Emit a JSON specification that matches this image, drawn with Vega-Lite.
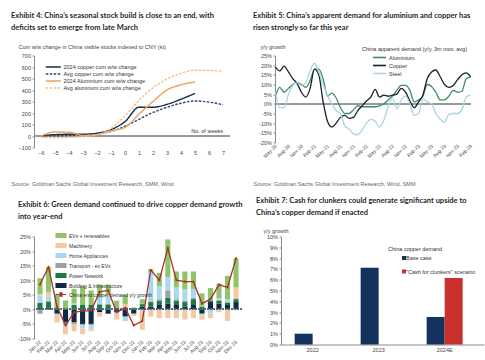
{
  "$schema": "https://vega.github.io/schema/vega-lite/v6.json",
  "background": "white",
  "padding": {"left": 11, "top": 11.5, "right": 5, "bottom": 0},
  "config": {
    "font": "Liberation Sans",
    "view": {"stroke": null},
    "axis": {"labelFontSize": 5.5, "labelColor": "#444", "titleFontSize": 5.5, "titleFontWeight": "normal", "titleColor": "#444", "domainColor": "#8a8a8a", "tickColor": "#8a8a8a", "grid": false, "tickSize": 2, "labelPadding": 1.5, "labelOverlap": false},
    "legend": {"labelFontSize": 5.5, "labelColor": "#333", "titleFontSize": 5.5, "titleFontWeight": "normal", "titleColor": "#333"},
    "title": {"font": "Lato", "fontSize": 7.5, "fontWeight": "bold", "anchor": "start", "frame": "group", "color": "#262626", "lineHeight": 12}
  },
  "datasets": {
    "p1": [
      {"w": -6, "2024 copper cum w/w change": 0, "Avg copper cum w/w change": -5, "2024 Aluminium cum w/w change": 0, "Avg aluminum cum w/w change": -8},
      {"w": -5, "2024 copper cum w/w change": 12, "Avg copper cum w/w change": 5, "2024 Aluminium cum w/w change": 35, "Avg aluminum cum w/w change": -15},
      {"w": -4, "2024 copper cum w/w change": 15, "Avg copper cum w/w change": 5, "2024 Aluminium cum w/w change": 33, "Avg aluminum cum w/w change": -12},
      {"w": -3, "2024 copper cum w/w change": 15, "Avg copper cum w/w change": 10, "2024 Aluminium cum w/w change": 5, "Avg aluminum cum w/w change": -5},
      {"w": -2, "2024 copper cum w/w change": 25, "Avg copper cum w/w change": 20, "2024 Aluminium cum w/w change": 12, "Avg aluminum cum w/w change": 10},
      {"w": -1, "2024 copper cum w/w change": 55, "Avg copper cum w/w change": 40, "2024 Aluminium cum w/w change": 45, "Avg aluminum cum w/w change": 65},
      {"w": 0, "2024 copper cum w/w change": 125, "Avg copper cum w/w change": 85, "2024 Aluminium cum w/w change": 75, "Avg aluminum cum w/w change": 175},
      {"w": 1, "2024 copper cum w/w change": 250, "Avg copper cum w/w change": 145, "2024 Aluminium cum w/w change": 190, "Avg aluminum cum w/w change": 310},
      {"w": 2, "2024 copper cum w/w change": 250, "Avg copper cum w/w change": 205, "2024 Aluminium cum w/w change": 300, "Avg aluminum cum w/w change": 420},
      {"w": 3, "2024 copper cum w/w change": 275, "Avg copper cum w/w change": 250, "2024 Aluminium cum w/w change": 400, "Avg aluminum cum w/w change": 495},
      {"w": 4, "2024 copper cum w/w change": 320, "Avg copper cum w/w change": 285, "2024 Aluminium cum w/w change": 445, "Avg aluminum cum w/w change": 545},
      {"w": 5, "2024 copper cum w/w change": 370, "Avg copper cum w/w change": 305, "2024 Aluminium cum w/w change": 470, "Avg aluminum cum w/w change": 572},
      {"w": 6, "Avg copper cum w/w change": 295, "Avg aluminum cum w/w change": 570},
      {"w": 7, "Avg copper cum w/w change": 272, "Avg aluminum cum w/w change": 563}
    ],
    "p2": [
      {"m": "May-20", "Aluminium": 4, "Copper": 19, "Steel": 6},
      {"m": "Jun-20", "Aluminium": 8.5, "Copper": 17, "Steel": -2},
      {"m": "Jul-20", "Aluminium": 6, "Copper": 19.5, "Steel": -2},
      {"m": "Aug-20", "Aluminium": 8, "Copper": 16.5, "Steel": 5},
      {"m": "Sep-20", "Aluminium": 10, "Copper": 13, "Steel": 9.5},
      {"m": "Oct-20", "Aluminium": 11, "Copper": 10.5, "Steel": 11},
      {"m": "Nov-20", "Aluminium": 10, "Copper": 6, "Steel": 9.5},
      {"m": "Dec-20", "Aluminium": 8.5, "Copper": 3.5, "Steel": 11},
      {"m": "Jan-21", "Aluminium": 12, "Copper": 8, "Steel": 17},
      {"m": "Feb-21", "Aluminium": 18, "Copper": 18, "Steel": 21},
      {"m": "Mar-21", "Aluminium": 18, "Copper": 15, "Steel": 16.5},
      {"m": "Apr-21", "Aluminium": 13, "Copper": 1, "Steel": 10},
      {"m": "May-21", "Aluminium": 4, "Copper": -9, "Steel": 4.5},
      {"m": "Jun-21", "Aluminium": 5.5, "Copper": -12, "Steel": 0},
      {"m": "Jul-21", "Aluminium": 3, "Copper": -10, "Steel": -3.5},
      {"m": "Aug-21", "Aluminium": -2, "Copper": -7, "Steel": -5},
      {"m": "Sep-21", "Aluminium": -5, "Copper": -6, "Steel": -11.5},
      {"m": "Oct-21", "Aluminium": -5, "Copper": -7.5, "Steel": -13},
      {"m": "Nov-21", "Aluminium": -3, "Copper": -7, "Steel": -15.5},
      {"m": "Dec-21", "Aluminium": -1, "Copper": -3.5, "Steel": -16},
      {"m": "Jan-22", "Aluminium": -1.5, "Copper": -1, "Steel": -13.5},
      {"m": "Feb-22", "Aluminium": -1.5, "Copper": 1.5, "Steel": -10},
      {"m": "Mar-22", "Aluminium": -1.5, "Copper": 3.5, "Steel": -8},
      {"m": "Apr-22", "Aluminium": -1.5, "Copper": 7.5, "Steel": -9},
      {"m": "May-22", "Aluminium": -1, "Copper": 3.5, "Steel": -12},
      {"m": "Jun-22", "Aluminium": 0, "Copper": 4.5, "Steel": -8.5},
      {"m": "Jul-22", "Aluminium": 2, "Copper": 4, "Steel": -1.5},
      {"m": "Aug-22", "Aluminium": 4, "Copper": 4.5, "Steel": 3},
      {"m": "Sep-22", "Aluminium": 7, "Copper": 5, "Steel": -2.5},
      {"m": "Oct-22", "Aluminium": 9.5, "Copper": 8, "Steel": 2},
      {"m": "Nov-22", "Aluminium": 9.5, "Copper": 6, "Steel": 4},
      {"m": "Dec-22", "Aluminium": 7, "Copper": 1.5, "Steel": 0},
      {"m": "Jan-23", "Aluminium": 1, "Copper": -2, "Steel": -6},
      {"m": "Feb-23", "Aluminium": 2, "Copper": 1, "Steel": -5},
      {"m": "Mar-23", "Aluminium": 4, "Copper": 4.5, "Steel": 2.5},
      {"m": "Apr-23", "Aluminium": 10, "Copper": 13, "Steel": 1},
      {"m": "May-23", "Aluminium": 9, "Copper": 16.5, "Steel": 0},
      {"m": "Jun-23", "Aluminium": 6, "Copper": 17.5, "Steel": -5},
      {"m": "Jul-23", "Aluminium": 2, "Copper": 14, "Steel": -8},
      {"m": "Aug-23", "Aluminium": 2, "Copper": 10, "Steel": -9.5},
      {"m": "Sep-23", "Aluminium": 4, "Copper": 8.5, "Steel": -5.5},
      {"m": "Oct-23", "Aluminium": 7, "Copper": 9.5, "Steel": -5},
      {"m": "Nov-23", "Aluminium": 6, "Copper": 12.5, "Steel": -5},
      {"m": "Dec-23", "Aluminium": 6.5, "Copper": 15, "Steel": -3},
      {"m": "Jan-24", "Aluminium": 13, "Copper": 16, "Steel": 3.5},
      {"m": "Feb-24", "Aluminium": 14, "Copper": 14, "Steel": 4.5}
    ],
    "p3": [
      {"m": "Jan-22", "Building & Infrastructure": 0.5, "Power Network": 1.7, "Transport - ex EVs": -1.5, "Home Appliances": 2.5, "Machinery": 0.5, "EVs + renewables": 5.5, "tot": 8.5},
      {"m": "Feb-22", "Building & Infrastructure": 0.5, "Power Network": 2, "Transport - ex EVs": 0.5, "Home Appliances": 1.5, "Machinery": 1.5, "EVs + renewables": 8.5, "tot": 14.5},
      {"m": "Mar-22", "Building & Infrastructure": -1.5, "Power Network": 0.5, "Transport - ex EVs": 0.3, "Home Appliances": -0.5, "Machinery": -2.5, "EVs + renewables": 4.5, "tot": 1},
      {"m": "Apr-22", "Building & Infrastructure": -4.5, "Power Network": 0.3, "Transport - ex EVs": -0.5, "Home Appliances": -1, "Machinery": -2.5, "EVs + renewables": 2.7, "tot": -5.5},
      {"m": "May-22", "Building & Infrastructure": -4.5, "Power Network": 1.5, "Transport - ex EVs": -0.5, "Home Appliances": 0.5, "Machinery": -2.5, "EVs + renewables": 5, "tot": -1},
      {"m": "Jun-22", "Building & Infrastructure": -5, "Power Network": 1.5, "Transport - ex EVs": -0.5, "Home Appliances": -1, "Machinery": -2, "EVs + renewables": 6.5, "tot": -0.5},
      {"m": "Jul-22", "Building & Infrastructure": -5, "Power Network": 1.5, "Transport - ex EVs": -0.5, "Home Appliances": -1.5, "Machinery": -0.5, "EVs + renewables": 5, "tot": -0.5},
      {"m": "Aug-22", "Building & Infrastructure": -1, "Power Network": 1.5, "Transport - ex EVs": 0.5, "Home Appliances": 2.5, "Machinery": -1.5, "EVs + renewables": 4, "tot": 6},
      {"m": "Sep-22", "Building & Infrastructure": -1.5, "Power Network": 1.5, "Transport - ex EVs": 0.5, "Home Appliances": 2.5, "Machinery": 0.5, "EVs + renewables": 3.5, "tot": 6.5},
      {"m": "Oct-22", "Building & Infrastructure": -1, "Power Network": 0.5, "Transport - ex EVs": 0.3, "Home Appliances": -0.5, "Machinery": -2, "EVs + renewables": 2.2, "tot": -1},
      {"m": "Nov-22", "Building & Infrastructure": -2.5, "Power Network": 0.5, "Transport - ex EVs": 0.3, "Home Appliances": -1.5, "Machinery": 1, "EVs + renewables": 3.2, "tot": 0.5},
      {"m": "Dec-22", "Building & Infrastructure": -1.5, "Power Network": 0.4, "Transport - ex EVs": 0.1, "Home Appliances": -0.3, "Machinery": -0.5, "EVs + renewables": 0.2, "tot": -5.5},
      {"m": "Jan-23", "Building & Infrastructure": 1, "Power Network": 0.8, "Transport - ex EVs": 0.2, "Home Appliances": -0.5, "Machinery": -6.5, "EVs + renewables": 1.5, "tot": -4},
      {"m": "Feb-23", "Building & Infrastructure": 1, "Power Network": 1.5, "Transport - ex EVs": 0.3, "Home Appliances": 10, "Machinery": -2.5, "EVs + renewables": 1, "tot": 13.5},
      {"m": "Mar-23", "Building & Infrastructure": 1.5, "Power Network": 1.5, "Transport - ex EVs": 0.5, "Home Appliances": 4.5, "Machinery": -3, "EVs + renewables": 4.5, "tot": 10},
      {"m": "Apr-23", "Building & Infrastructure": 2, "Power Network": 2, "Transport - ex EVs": 2.5, "Home Appliances": 4.5, "Machinery": -3, "EVs + renewables": 13, "tot": 21},
      {"m": "May-23", "Building & Infrastructure": 1.5, "Power Network": 1.5, "Transport - ex EVs": 0.5, "Home Appliances": 4, "Machinery": -3, "EVs + renewables": 5.5, "tot": 10},
      {"m": "Jun-23", "Building & Infrastructure": 1, "Power Network": 1.5, "Transport - ex EVs": 0.5, "Home Appliances": 4, "Machinery": -3.5, "EVs + renewables": 6, "tot": 9.5},
      {"m": "Jul-23", "Building & Infrastructure": 1.5, "Power Network": 2, "Transport - ex EVs": 0.5, "Home Appliances": 3, "Machinery": -3, "EVs + renewables": 6, "tot": 9.5},
      {"m": "Aug-23", "Building & Infrastructure": -1.5, "Power Network": 0.8, "Transport - ex EVs": 0.2, "Home Appliances": -0.5, "Machinery": -1.5, "EVs + renewables": 4.5, "tot": 2},
      {"m": "Sep-23", "Building & Infrastructure": 2.5, "Power Network": 0.5, "Transport - ex EVs": 0.3, "Home Appliances": -1.5, "Machinery": -1.5, "EVs + renewables": 4, "tot": 3.5},
      {"m": "Oct-23", "Building & Infrastructure": 2, "Power Network": 1, "Transport - ex EVs": 0.3, "Home Appliances": 0.5, "Machinery": -1, "EVs + renewables": 5, "tot": 8.5},
      {"m": "Nov-23", "Building & Infrastructure": 1.5, "Power Network": 0.7, "Transport - ex EVs": 0.3, "Home Appliances": 1, "Machinery": -4, "EVs + renewables": 8, "tot": 7.5},
      {"m": "Dec-23", "Building & Infrastructure": 2.5, "Power Network": 1, "Transport - ex EVs": 0.3, "Home Appliances": 0.2, "Machinery": 3.5, "EVs + renewables": 10, "tot": 17.5}
    ],
    "p3order": [
      {"c": "Building & Infrastructure", "k": 1},
      {"c": "Power Network", "k": 2},
      {"c": "Transport - ex EVs", "k": 3},
      {"c": "Home Appliances", "k": 4},
      {"c": "Machinery", "k": 5},
      {"c": "EVs + renewables", "k": 6}
    ],
    "p4": [
      {"yr": "2022", "s": "Base case", "v": 1.0},
      {"yr": "2023", "s": "Base case", "v": 7.1},
      {"yr": "2024E", "s": "Base case", "v": 2.55},
      {"yr": "2024E", "s": "\"Cash for clunkers\" scenario", "v": 6.15}
    ]
  },
  "spacing": 9,
  "resolve": {"scale": {"color": "independent", "strokeDash": "independent", "xOffset": "independent"}, "legend": {"color": "independent", "strokeDash": "independent"}},
  "vconcat": [
    {
      "bounds": "flush",
      "spacing": 45,
      "resolve": {"scale": {"color": "independent", "strokeDash": "independent"}, "legend": {"color": "independent", "strokeDash": "independent"}},
      "hconcat": [
        {
          "width": 196,
          "height": 92,
          "title": {"text": ["Exhibit 4: China’s seasonal stock build is close to an end, with", "deficits set to emerge from late March"], "dx": -23, "offset": 13.5},
          "layer": [
            {
              "data": {"name": "p1"},
              "mark": {"type": "rule", "color": "#9a9a9a", "strokeWidth": 0.8},
              "encoding": {"y": {"datum": 0, "type": "quantitative", "scale": {"domain": [-100, 700], "nice": false},
                  "axis": {"values": [-100, 0, 100, 200, 300, 400, 500, 600, 700], "labelOverlap": false, "title": "Cum w/w change in China visible stocks indexed to CNY (kt)", "titleAngle": 0, "titleAlign": "left", "titleBaseline": "middle", "titleX": -16, "titleY": -9}}}
            },
            {
              "data": {"name": "p1"},
              "transform": [{"fold": ["2024 copper cum w/w change", "Avg copper cum w/w change", "2024 Aluminium cum w/w change", "Avg aluminum cum w/w change"], "as": ["s", "v"]}],
              "mark": {"type": "line", "interpolate": "monotone", "strokeWidth": 1.4},
              "encoding": {
                "x": {"field": "w", "type": "quantitative", "scale": {"domain": [-6.5, 7.5], "nice": false, "zero": false},
                  "axis": {"orient": "bottom", "values": [-6, -5, -4, -3, -2, -1, 0, 1, 2, 3, 4, 5, 6, 7], "labelOverlap": false, "domain": false, "ticks": false, "labelPadding": 3,
                    "title": "Source: Goldman Sachs Global Investment Research, SMM, Wind", "titleX": -23, "titleY": 38, "titleAlign": "left", "titleBaseline": "alphabetic", "titleAnchor": "start", "titleColor": "#666"}},
                "y": {"field": "v", "type": "quantitative", "scale": {"domain": [-100, 700], "nice": false},
                  "axis": {"values": [-100, 0, 100, 200, 300, 400, 500, 600, 700], "labelOverlap": false, "title": "Cum w/w change in China visible stocks indexed to CNY (kt)", "titleAngle": 0, "titleAlign": "left", "titleBaseline": "middle", "titleX": -16, "titleY": -9}},
                "color": {"field": "s", "type": "nominal",
                  "scale": {"domain": ["2024 copper cum w/w change", "Avg copper cum w/w change", "2024 Aluminium cum w/w change", "Avg aluminum cum w/w change"], "range": ["#1b2a47", "#2b4470", "#e9a35e", "#f5bd86"]},
                  "legend": {"orient": "none", "legendX": 11, "legendY": 8, "title": null, "symbolType": "M-1,0H4.45", "symbolSize": 30.25, "symbolStrokeWidth": 1.4, "labelOffset": 11.5, "rowPadding": 0}},
                "strokeDash": {"field": "s", "type": "nominal",
                  "scale": {"domain": ["2024 copper cum w/w change", "Avg copper cum w/w change", "2024 Aluminium cum w/w change", "Avg aluminum cum w/w change"], "range": [[1, 0], [2.5, 1.5], [1, 0], [2.5, 1.5]]},
                  "legend": {"orient": "none", "legendX": 11, "legendY": 8, "title": null, "symbolType": "M-1,0H4.45", "symbolSize": 30.25, "symbolStrokeWidth": 1.4, "labelOffset": 11.5, "rowPadding": 0}}
              }
            },
            {
              "data": {"values": [{"w": 7, "v": 40, "t": "No. of weeks"}]},
              "mark": {"type": "text", "align": "right", "baseline": "middle", "fontSize": 5.5, "color": "#333"},
              "encoding": {
                "x": {"field": "w", "type": "quantitative", "scale": {"domain": [-6.5, 7.5], "nice": false, "zero": false},
                  "axis": {"orient": "bottom", "values": [-6, -5, -4, -3, -2, -1, 0, 1, 2, 3, 4, 5, 6, 7], "labelOverlap": false, "domain": false, "ticks": false, "labelPadding": 3,
                    "title": "Source: Goldman Sachs Global Investment Research, SMM, Wind", "titleX": -23, "titleY": 38, "titleAlign": "left", "titleBaseline": "alphabetic", "titleAnchor": "start", "titleColor": "#666"}},
                "y": {"field": "v", "type": "quantitative", "scale": {"domain": [-100, 700], "nice": false},
                  "axis": {"values": [-100, 0, 100, 200, 300, 400, 500, 600, 700], "labelOverlap": false, "title": "Cum w/w change in China visible stocks indexed to CNY (kt)", "titleAngle": 0, "titleAlign": "left", "titleBaseline": "middle", "titleX": -16, "titleY": -9}},
                "text": {"field": "t"}
              }
            }
          ]
        },
        {
          "width": 196,
          "height": 87,
          "title": {"text": ["Exhibit 5: China’s apparent demand for aluminium and copper has", "risen strongly so far this year"], "dx": -22, "offset": 13.5},
          "layer": [
            {
              "data": {"name": "p2"},
              "mark": {"type": "rule", "color": "#9a9a9a", "strokeWidth": 0.8},
              "encoding": {"y": {"datum": 0, "type": "quantitative", "scale": {"domain": [-20, 25], "nice": false},
                  "axis": {"values": [-20, -15, -10, -5, 0, 5, 10, 15, 20, 25], "labelOverlap": false, "labelExpr": "datum.value + '%'", "title": "y/y growth", "titleAngle": 0, "titleAlign": "left", "titleBaseline": "middle", "titleX": -15, "titleY": -9}}}
            },
            {
              "data": {"name": "p2"},
              "transform": [{"fold": ["Aluminium", "Copper", "Steel"], "as": ["s", "v"]}],
              "mark": {"type": "line", "interpolate": "monotone", "strokeWidth": 1.3},
              "encoding": {
                "x": {"field": "m", "type": "ordinal", "sort": null, "scale": {"type": "point", "padding": 0.1},
                  "axis": {"orient": "bottom", "values": ["May-20", "Aug-20", "Nov-20", "Feb-21", "May-21", "Aug-21", "Nov-21", "Feb-22", "May-22", "Aug-22", "Nov-22", "Feb-23", "May-23", "Aug-23", "Nov-23", "Feb-24"],
                    "labelAngle": -45, "labelAlign": "right", "labelBaseline": "middle", "labelFontSize": 5, "domain": false, "ticks": false, "labelPadding": 2,
                    "title": "Source: Goldman Sachs Global Investment Research, Wind, SMM", "titleX": -22, "titleY": 43, "titleAlign": "left", "titleBaseline": "alphabetic", "titleAnchor": "start", "titleColor": "#666"}},
                "y": {"field": "v", "type": "quantitative", "scale": {"domain": [-20, 25], "nice": false},
                  "axis": {"values": [-20, -15, -10, -5, 0, 5, 10, 15, 20, 25], "labelOverlap": false, "labelExpr": "datum.value + '%'", "title": "y/y growth", "titleAngle": 0, "titleAlign": "left", "titleBaseline": "middle", "titleX": -15, "titleY": -9}},
                "color": {"field": "s", "type": "nominal",
                  "scale": {"domain": ["Aluminium", "Copper", "Steel"], "range": ["#3d8b63", "#17202e", "#a9d5e3"]},
                  "legend": {"orient": "none", "legendX": 87, "legendY": -9, "title": "China apparent demand (y/y, 3m mov. avg)", "titlePadding": 1, "symbolType": "M1.86,0H5.57", "symbolSize": 49, "symbolStrokeWidth": 1.6, "labelOffset": 18, "rowPadding": 0}}
              }
            }
          ]
        }
      ]
    },
    {
      "spacing": 13,
      "align": "none",
      "resolve": {"scale": {"color": "independent", "xOffset": "independent"}, "legend": {"color": "independent"}},
      "hconcat": [
        {
          "width": 208,
          "height": 102,
          "title": {"text": ["Exhibit 6: Green demand continued to drive copper demand growth", "into year-end"], "dx": -16, "offset": 12},
          "layer": [
            {
              "data": {"name": "p3"},
              "transform": [
                {"fold": ["Building & Infrastructure", "Power Network", "Transport - ex EVs", "Home Appliances", "Machinery", "EVs + renewables"], "as": ["c", "v"]},
                {"lookup": "c", "from": {"data": {"name": "p3order"}, "key": "c", "fields": ["k"]}}
              ],
              "mark": {"type": "bar"},
              "encoding": {
                "x": {"field": "m", "type": "ordinal", "sort": null, "scale": {"paddingInner": 0.4, "paddingOuter": 0.4},
                  "axis": {"labelAngle": -45, "labelAlign": "right", "labelBaseline": "middle", "labelFontSize": 5, "labelOverlap": false, "domain": false, "ticks": false, "labelPadding": 2, "title": null}},
                "y": {"field": "v", "type": "quantitative", "stack": "zero", "scale": {"domain": [-10, 25], "nice": false},
                  "axis": {"values": [-10, -5, 0, 5, 10, 15, 20, 25], "labelOverlap": false, "labelExpr": "datum.value + '%'", "title": null}},
                "color": {"field": "c", "type": "nominal",
                  "scale": {"domain": ["EVs + renewables", "Machinery", "Home Appliances", "Transport - ex EVs", "Power Network", "Building & Infrastructure", "China end copper demand y/y growth"],
                    "range": ["#8fc46a", "#f6c8a0", "#a9d9f0", "#9aa0a6", "#1d7a45", "#0e2a47", "#a8312b"]},
                  "legend": {"orient": "none", "legendX": 21, "legendY": -4, "title": null, "symbolType": "M-1,-1H4V1H-1Z", "symbolSize": 16, "labelOffset": 8, "labelFontSize": 5, "rowPadding": 0,
                    "encode": {"symbols": {"update": {
                      "shape": {"signal": "datum.value === 'China end copper demand y/y growth' ? 'M-1,0H4M1,-0.9H2V0.9H1Z' : 'M-1,-1H4V1H-1Z'"},
                      "stroke": {"signal": "datum.value === 'China end copper demand y/y growth' ? '#a8312b' : 'transparent'"},
                      "strokeWidth": {"value": 1.1}}}}}},
                "order": {"field": "k", "type": "quantitative"}
              }
            },
            {
              "data": {"name": "p3"},
              "mark": {"type": "rule", "color": "#4a6b78", "strokeDash": [1.5, 1.5], "strokeWidth": 0.8},
              "encoding": {"y": {"datum": 0, "type": "quantitative", "scale": {"domain": [-10, 25], "nice": false},
                  "axis": {"values": [-10, -5, 0, 5, 10, 15, 20, 25], "labelOverlap": false, "labelExpr": "datum.value + '%'", "title": null}}}
            },
            {
              "data": {"name": "p3"},
              "mark": {"type": "line", "strokeWidth": 1.3, "point": {"filled": true, "size": 5}},
              "encoding": {
                "x": {"field": "m", "type": "ordinal", "sort": null,
                  "axis": {"labelAngle": -45, "labelAlign": "right", "labelBaseline": "middle", "labelFontSize": 5, "labelOverlap": false, "domain": false, "ticks": false, "labelPadding": 2, "title": null}},
                "y": {"field": "tot", "type": "quantitative", "scale": {"domain": [-10, 25], "nice": false},
                  "axis": {"values": [-10, -5, 0, 5, 10, 15, 20, 25], "labelOverlap": false, "labelExpr": "datum.value + '%'", "title": null}},
                "color": {"datum": "China end copper demand y/y growth", "type": "nominal"}
              }
            }
          ]
        },
        {
          "width": 203,
          "height": 108,
          "title": {"text": ["Exhibit 7: Cash for clunkers could generate significant upside to", "China’s copper demand if enacted"], "dx": -25, "offset": 12.5},
          "data": {"name": "p4"},
          "mark": {"type": "bar"},
          "encoding": {
            "x": {"field": "yr", "type": "nominal", "sort": null, "scale": {"paddingInner": 0.4545, "paddingOuter": 0.265, "align": 0.39},
              "axis": {"labelAngle": 0, "title": null, "ticks": false, "labelPadding": 3, "labelFontSize": 5.5}},
            "xOffset": {"field": "s", "type": "nominal", "scale": {"domain": ["Base case", "\"Cash for clunkers\" scenario"]}},
            "y": {"field": "v", "type": "quantitative", "scale": {"domain": [0, 10], "nice": false},
              "axis": {"values": [0, 1, 2, 3, 4, 5, 6, 7, 8, 9, 10], "labelExpr": "datum.value + '%'", "title": "y/y growth", "titleAngle": 0, "titleAlign": "left", "titleBaseline": "middle", "titleX": -18, "titleY": -6}},
            "color": {"field": "s", "type": "nominal",
              "scale": {"domain": ["Base case", "\"Cash for clunkers\" scenario"], "range": ["#15325e", "#c8312e"]},
              "legend": {"orient": "none", "legendX": 107, "legendY": 10, "title": "China copper demand", "titlePadding": 3, "symbolType": "M5.5,-1H7.5V1H5.5Z", "symbolSize": 16, "labelOffset": 12, "rowPadding": 6.5}}
          }
        }
      ]
    }
  ]
}
